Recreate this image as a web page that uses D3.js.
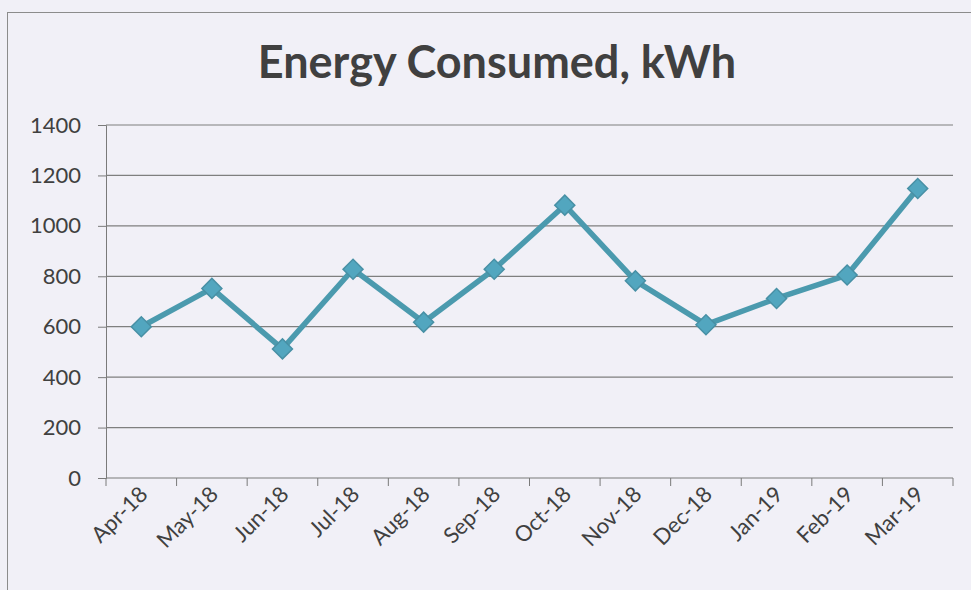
<!DOCTYPE html>
<html><head><meta charset="utf-8">
<script src="https://cdn.jsdelivr.net/npm/d3@7"></script>
<style>body{margin:0;background:#f1f0f7;}svg{display:block;}</style>
</head><body><svg id="c" width="971" height="590"></svg>
<script>
const categories = ["Apr-18","May-18","Jun-18","Jul-18","Aug-18","Sep-18","Oct-18","Nov-18","Dec-18","Jan-19","Feb-19","Mar-19"];
const energy = [600, 752, 512, 828, 618, 828, 1082, 782, 608, 712, 805, 1148];
const yTicks = [0,200,400,600,800,1000,1200,1400];
const title = "Energy Consumed, kWh";

const svg = d3.select("#c");
svg.append("rect").attr("x",0).attr("y",0).attr("width",971).attr("height",590).attr("fill","#f1f0f7");
svg.append("rect").attr("x",7.5).attr("y",12.5).attr("width",990).attr("height",600)
  .attr("fill","none").attr("stroke","#8c8c8c").attr("stroke-width",1);

const m = {l:106, r:953, t:125, b:478};
const x = d3.scaleBand().domain(categories).range([m.l, m.r]);
const y = d3.scaleLinear().domain([0,1400]).range([m.b, m.t]);
const font = "Lato, 'Open Sans', sans-serif";

svg.append("text").attr("x",497).attr("y",78).attr("text-anchor","middle")
  .attr("font-family",font).attr("font-weight","bold")
  .attr("font-size",45).attr("fill","#404040").text(title);

// y axis
const ya = svg.append("g").attr("transform",`translate(${m.l},0)`)
  .call(d3.axisLeft(y).tickValues(yTicks).tickSize(8).tickPadding(17).tickFormat(d3.format("d")));
ya.select(".domain").attr("stroke","#7a7a7a");
ya.selectAll(".tick line").attr("stroke","#7a7a7a");
ya.selectAll(".tick text").attr("font-family",font).attr("font-size",22).attr("fill","#404040");
svg.append("g").selectAll("line").data(yTicks.filter(d=>d>0)).join("line")
  .attr("x1",m.l).attr("x2",m.r).attr("y1",d=>y(d)).attr("y2",d=>y(d))
  .attr("stroke","#7f7f7f").attr("stroke-width",1.2);

// x axis with ticks at band edges
const xa = svg.append("g").attr("transform",`translate(0,${m.b})`);
xa.append("line").attr("x1",m.l).attr("x2",m.r).attr("stroke","#7a7a7a").attr("stroke-width",1.2);
const edges = categories.map(c=>x(c)).concat([m.r]);
xa.selectAll("line.t").data(edges).join("line").attr("class","t")
  .attr("x1",d=>d).attr("x2",d=>d).attr("y1",0).attr("y2",8).attr("stroke","#7a7a7a");
xa.selectAll("text").data(categories).join("text")
  .attr("transform",d=>`translate(${x(d)+x.bandwidth()/2-4},${6}) rotate(-45)`)
  .attr("text-anchor","end").attr("dy","0.75em")
  .attr("font-family",font).attr("font-size",22).attr("fill","#404040")
  .text(d=>d);

// line
const line = d3.line().x((d,i)=>x(categories[i])+x.bandwidth()/2).y(d=>y(d));
svg.append("path").datum(energy).attr("d",line).attr("fill","none")
  .attr("stroke","#4b9aae").attr("stroke-width",5.5).attr("stroke-linejoin","round");
svg.append("g").selectAll("path").data(energy).join("path")
  .attr("d",d3.symbol().type(d3.symbolSquare).size(200))
  .attr("transform",(d,i)=>`translate(${x(categories[i])+x.bandwidth()/2},${y(d)}) rotate(45)`)
  .attr("fill","#52a6bf").attr("stroke","#4890a5").attr("stroke-width",1.5);
</script></body></html>
